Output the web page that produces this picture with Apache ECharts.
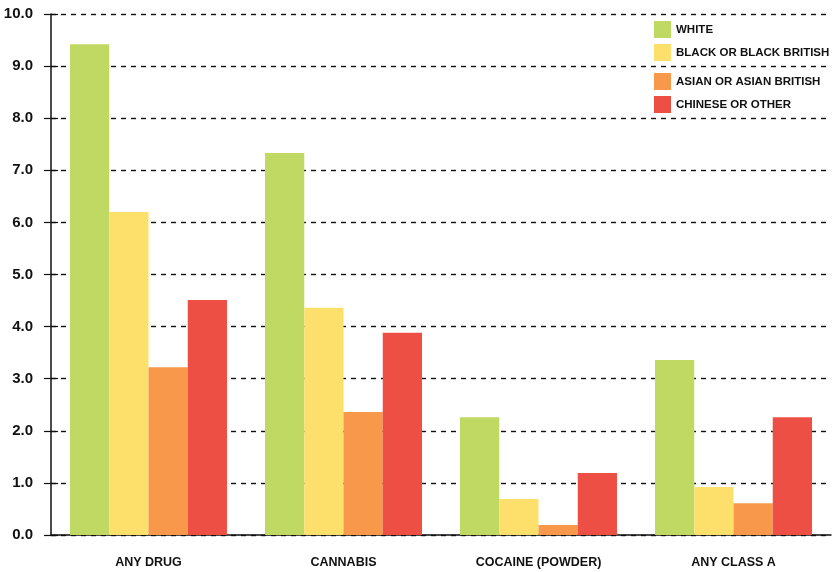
<!DOCTYPE html>
<html>
<head>
<meta charset="utf-8">
<script src="https://cdn.jsdelivr.net/npm/echarts@6/dist/echarts.min.js"></script>
<style>html,body{margin:0;padding:0;background:#fff}#c{width:832px;height:572px}</style>
</head>
<body>
<div id="c"></div>
<script>
const categories = ['ANY DRUG', 'CANNABIS', 'COCAINE (POWDER)', 'ANY CLASS A'];
const seriesNames = ['WHITE', 'BLACK OR BLACK BRITISH', 'ASIAN OR ASIAN BRITISH', 'CHINESE OR OTHER'];
const white = [9.42, 7.33, 2.26, 3.36];
const black = [6.2, 4.36, 0.69, 0.92];
const asian = [3.22, 2.36, 0.19, 0.61];
const chinese = [4.51, 3.88, 1.19, 2.26];
const colors = ['#BFD962', '#FDDF6B', '#F7984A', '#EE4F45'];

const FONT = "'Liberation Sans', Arial, sans-serif";
const chart = echarts.init(document.getElementById('c'));
const values = [white, black, asian, chinese];
const legendText = {fontFamily: FONT, fontWeight: 'bold', fontSize: 11.5, color: '#111'};
chart.setOption({
  animation: false,
  color: colors,
  grid: {left: 51, right: 1, top: 14, bottom: 37, outerBoundsMode: 'none', containLabel: false},
  legend: [
    {data: seriesNames.slice(0, 2), orient: 'vertical', left: 654, top: 21, itemWidth: 17, itemHeight: 17, itemGap: 6, icon: 'rect', textStyle: legendText, padding: 0},
    {data: seriesNames.slice(2), orient: 'vertical', left: 654, top: 73, itemWidth: 17, itemHeight: 17, itemGap: 6, icon: 'rect', textStyle: legendText, padding: 0}
  ],
  xAxis: {
    type: 'category', data: categories,
    axisLine: {lineStyle: {color: '#111', width: 1.5}},
    axisTick: {length: 7, lineStyle: {color: '#111', width: 1.2}},
    axisLabel: {interval: 0, fontFamily: FONT, fontWeight: 'bold', fontSize: 12.5, color: '#111', margin: 21}
  },
  yAxis: [
    {
      type: 'value', min: 0, max: 10, interval: 1,
      axisLine: {show: true, lineStyle: {color: '#111', width: 1.5}},
      axisTick: {show: true, length: 7, lineStyle: {color: '#111', width: 1.2}},
      axisLabel: {fontFamily: FONT, fontWeight: 'bold', fontSize: 15, color: '#111', margin: 18, formatter: v => v.toFixed(1)},
      splitLine: {show: true, lineStyle: {color: '#111', width: 1.4, type: [5, 5]}}
    },
    {
      type: 'value', min: 0, max: 10, interval: 1, position: 'left', offset: 0,
      axisLine: {show: false},
      axisTick: {show: true, inside: true, length: 7, lineStyle: {color: '#111', width: 1.2}},
      axisLabel: {show: false},
      splitLine: {show: false}
    }
  ],
  series: seriesNames.map((n, i) => ({
    name: n, type: 'bar', data: values[i], yAxisIndex: 0,
    barGap: 0, barCategoryGap: '19.5%'
  }))
});
</script>
</body>
</html>
